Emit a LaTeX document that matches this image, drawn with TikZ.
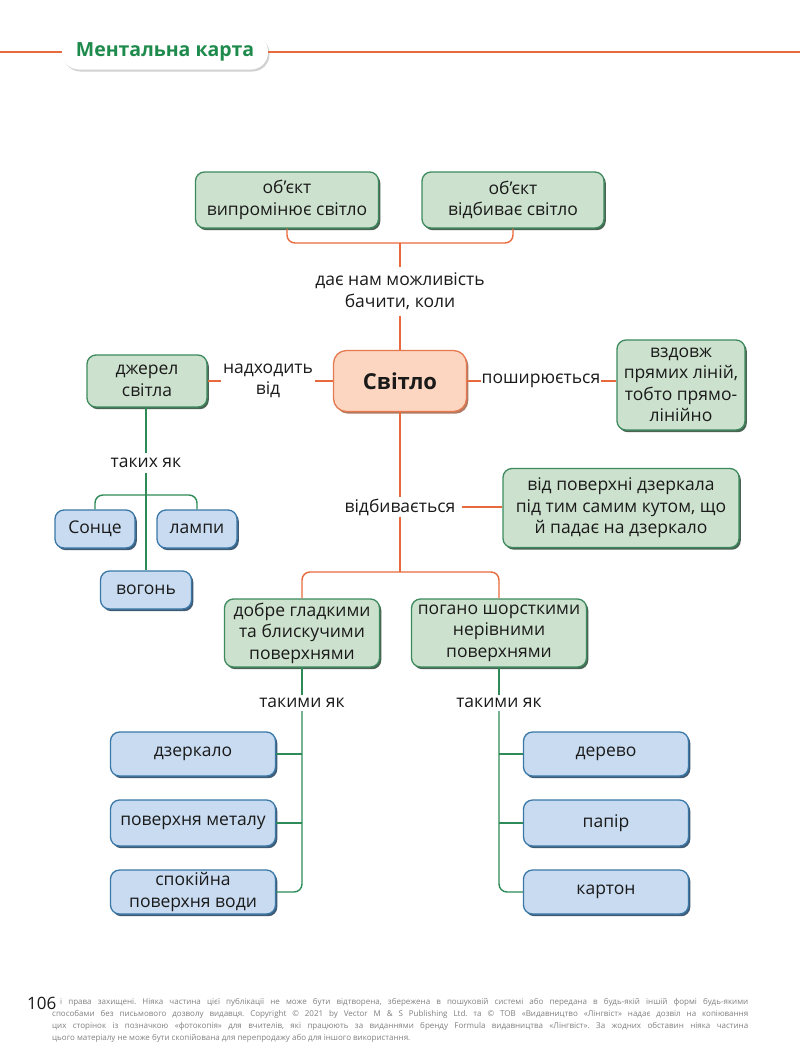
\documentclass[tikz,border=0pt]{standalone}
\usepackage{fontspec}
\setmainfont{Open Sans}
\newfontfamily\footfont{Open Sans}
\frenchspacing
\usetikzlibrary{shadows,calc}
\definecolor{gfill}{HTML}{CDE2CE}
\definecolor{gborder}{HTML}{3D8A5E}
\definecolor{gshadow}{HTML}{2A4A36}
\definecolor{bfill}{HTML}{C8DBF0}
\definecolor{bborder}{HTML}{3A78A8}
\definecolor{bshadow}{HTML}{1E3F5E}
\definecolor{pfill}{HTML}{FCD6C0}
\definecolor{pborder}{HTML}{E57A50}
\definecolor{pshadow}{HTML}{9A5A3E}
\definecolor{oline}{HTML}{E8693C}
\definecolor{gline}{HTML}{2E8B57}
\definecolor{titlegreen}{HTML}{1E8A4C}
\definecolor{txt}{HTML}{1A1A1A}
\definecolor{foot}{HTML}{808080}
\newcommand\mfs{\fontsize{17.5}{21.5}\selectfont}
\tikzset{
  basebox/.style={line width=1.3pt, rounded corners=9pt, align=center, font=\mfs, text=txt, inner sep=1.5pt},
  gbox/.style={basebox, draw=gborder, fill=gfill, drop shadow={shadow xshift=1.8pt, shadow yshift=-2.2pt, fill=gshadow, opacity=0.85}},
  bbox/.style={basebox, draw=bborder, fill=bfill, drop shadow={shadow xshift=1.8pt, shadow yshift=-2.2pt, fill=bshadow, opacity=0.85}},
  pbox/.style={basebox, draw=pborder, fill=pfill, font=\fontsize{22}{26}\selectfont\bfseries, drop shadow={shadow xshift=1.8pt, shadow yshift=-2.2pt, fill=pshadow, opacity=0.8}},
  lab/.style={align=center, font=\mfs, text=txt, inner xsep=3pt, inner ysep=5pt},
  oconn/.style={draw=oline, line width=1.4pt},
  gconn/.style={draw=gline, line width=1.4pt},
  footline/.style={anchor=base west, inner sep=0pt, text=foot, font=\footfont\fontsize{8.0}{9}\selectfont},
}
\begin{document}
\begin{tikzpicture}[x=1pt,y=-1pt]
\useasboundingbox (0,0) rectangle (800,1058);
\fill[white] (0,0) rectangle (800,1058);
% header
\node[draw=none, fill=white, rounded corners=17pt, minimum width=206pt, minimum height=35pt,
      font=\fontsize{19.5}{21}\selectfont\bfseries, text=titlegreen,
      drop shadow={shadow xshift=1.5pt, shadow yshift=-2pt, fill=black, opacity=0.18}] (title) at (165,52) {Ментальна карта};
\coordinate (hl) at (0,52);
\coordinate (hr) at (800,52);
\draw[oconn, line width=2.4pt] (hl) -- (title.west);
\draw[oconn, line width=2.4pt] (title.east) -- (hr);
% top
\node[gbox, minimum width=183pt, minimum height=56pt] (o1) at (287,200) {об’єкт\\випромінює світло};
\node[gbox, minimum width=182pt, minimum height=56pt] (o2) at (513,200) {об’єкт\\відбиває світло};
\node[lab, inner ysep=6pt] (lab1) at (400,291) {дає нам можливість\\бачити, коли};
\node[pbox, minimum width=133pt, minimum height=61pt, rounded corners=13pt] (sv) at (400,381) {Світло};
\coordinate (br1) at (400,243);
\draw[oconn, rounded corners=8pt] (o1.south) |- (br1) -| (o2.south);
\draw[oconn] (br1) -- (lab1.north);
\draw[oconn] (lab1.south) -- (sv.north);
% left
\node[gbox, minimum width=120pt, minimum height=52pt] (dj) at (147,381) {джерел\\світла};
\node[lab, inner xsep=2pt] (nad) at (268,381) {надходить\\від};
\draw[oconn] (dj.east) -- (nad.west);
\draw[oconn] (nad.east) -- (sv.west);
% right
\node[gbox, minimum width=128pt, minimum height=90pt] (vz) at (681,385) {вздовж\\прямих ліній,\\тобто прямо-\\лінійно};
\node[lab, inner xsep=1pt] (pos) at (541,381) {поширюється};
\draw[oconn] (sv.east) -- (pos.west);
\draw[oconn] (pos.east) -- (pos.east -| vz.west);
% reflection
\node[lab, inner xsep=6pt, inner ysep=1pt] (vid) at (400,507) {відбивається};
\node[gbox, minimum width=236pt, minimum height=79pt] (vp) at (621,508) {від поверхні дзеркала\\під тим самим кутом, що\\й падає на дзеркало};
\draw[oconn] (sv.south) -- (vid.north);
\draw[oconn] (vid.east) -- (vid.east -| vp.west);
\node[gbox, minimum width=155pt, minimum height=68pt] (good) at (302,633) {добре гладкими\\та блискучими\\поверхнями};
\node[gbox, minimum width=175pt, minimum height=68pt] (bad) at (499,633) {погано шорсткими\\нерівними\\поверхнями};
\coordinate (br2) at (400,572);
\draw[oconn] (vid.south) -- (br2);
\draw[oconn, rounded corners=8pt] (good.north) |- (br2) -| (bad.north);
% lower trees
\node[lab, inner ysep=3pt] (tl) at (302,703) {такими як};
\node[lab, inner ysep=3pt] (tr) at (499,703) {такими як};
\draw[gconn] (good.south) -- (tl.north);
\draw[gconn] (bad.south) -- (tr.north);
\node[bbox, minimum width=165pt, minimum height=44pt] (l1) at (193,754) {дзеркало};
\node[bbox, minimum width=165pt, minimum height=46pt] (l2) at (193,823) {поверхня металу};
\node[bbox, minimum width=165pt, minimum height=44pt] (l3) at (193,892) {спокійна\\поверхня води};
\node[bbox, minimum width=165pt, minimum height=44pt] (r1) at (606,754) {дерево};
\node[bbox, minimum width=165pt, minimum height=46pt] (r2) at (606,823) {папір};
\node[bbox, minimum width=165pt, minimum height=44pt] (r3) at (606,892) {картон};
\draw[gconn, rounded corners=8pt] (tl.south) |- (l3.east);
\draw[gconn] (l1.east) -- (l1.east -| tl.south);
\draw[gconn] (l2.east) -- (l2.east -| tl.south);
\draw[gconn, rounded corners=8pt] (tr.south) |- (r3.west);
\draw[gconn] (r1.west) -- (r1.west -| tr.south);
\draw[gconn] (r2.west) -- (r2.west -| tr.south);
% sources tree
\node[lab] (tk) at (146,463) {таких як};
\node[bbox, minimum width=80pt, minimum height=38pt] (son) at (95,529) {Сонце};
\node[bbox, minimum width=80pt, minimum height=38pt] (lam) at (197,529) {лампи};
\node[bbox, minimum width=91pt, minimum height=38pt] (vog) at (146,590) {вогонь};
\coordinate (br3) at (146,495);
\draw[gconn] (dj.south -| tk.north) -- (tk.north);
\draw[gconn] (tk.south) -- (vog.north);
\draw[gconn, rounded corners=8pt] (son.north) |- (br3) -| (lam.north);
% footer
\node[anchor=base west, inner sep=0pt, text=txt, font=\fontsize{17}{17}\selectfont] (pg) at (27,1009) {106};
\node[footline] (f1) at (60,1004) {\makebox[688pt][s]{і права захищені. Ніяка частина цієї публікації не може бути відтворена, збережена в пошуковій системі або передана в будь-якій іншій формі будь-якими}};
\node[footline] (f2) at (52,1016) {\makebox[696pt][s]{способами без письмового дозволу видавця. Copyright © 2021 by Vector M \& S Publishing Ltd. та © ТОВ «Видавництво «Лінгвіст» надає дозвіл на копіювання}};
\node[footline] (f3) at (52,1028) {\makebox[696pt][s]{цих сторінок із позначкою «фотокопія» для вчителів, які працюють за виданнями бренду Formula видавництва «Лінгвіст». За жодних обставин ніяка частина}};
\node[footline] (f4) at (52,1040) {цього матеріалу не може бути скопійована для перепродажу або для іншого використання.};
\end{tikzpicture}
\end{document}
